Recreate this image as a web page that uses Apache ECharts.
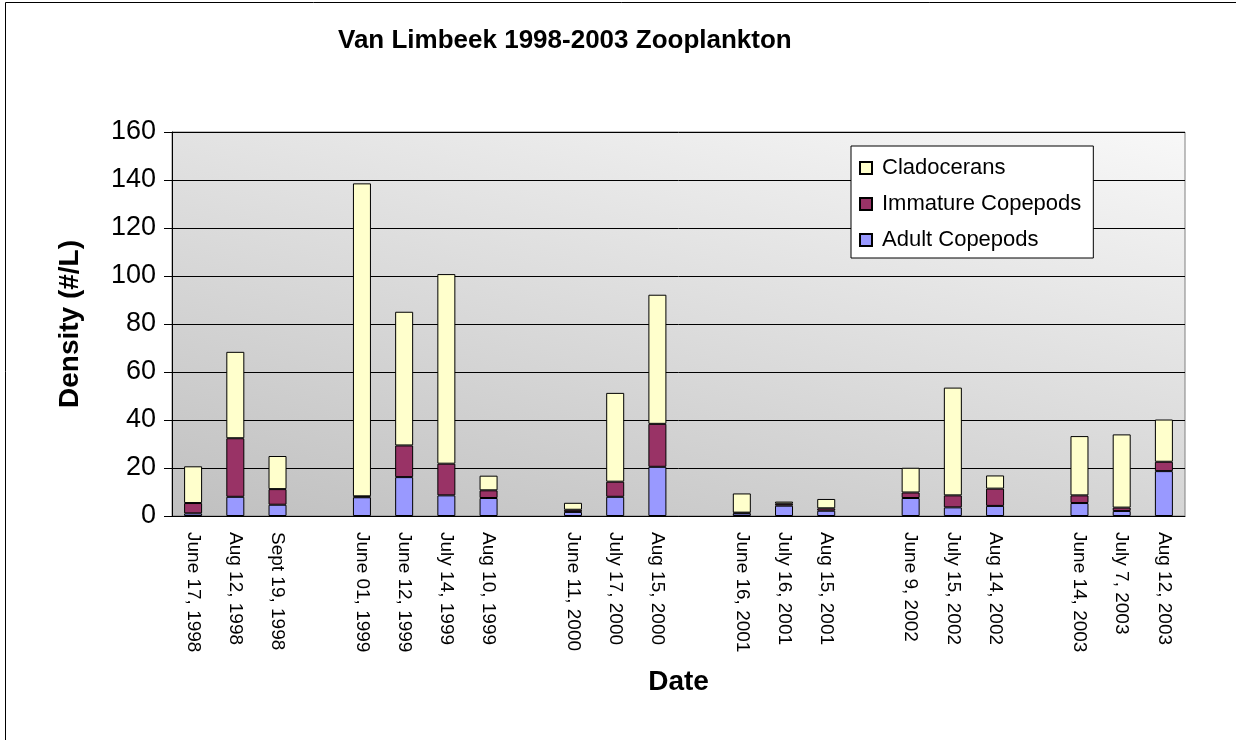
<!DOCTYPE html>
<html>
<head>
<meta charset="utf-8">
<script src="https://cdn.jsdelivr.net/npm/echarts@6/dist/echarts.min.js"></script>
<style>
  html, body { margin: 0; padding: 0; background: #fff; }
  #chart { width: 1236px; height: 740px; }
</style>
</head>
<body>
<div id="chart"></div>
<script>
  // sampling dates, blank entries are the gaps between years
  let dates = ['June 17, 1998', 'Aug 12, 1998', 'Sept 19, 1998', '',
    'June 01, 1999', 'June 12, 1999', 'July 14, 1999', 'Aug 10, 1999', '',
    'June 11, 2000', 'July 17, 2000', 'Aug 15, 2000', '',
    'June 16, 2001', 'July 16, 2001', 'Aug 15, 2001', '',
    'June 9, 2002', 'July 15, 2002', 'Aug 14, 2002', '',
    'June 14, 2003', 'July 7, 2003', 'Aug 12, 2003'];
  let adult = [1.1, 8.0, 4.7, null, 7.8, 16.2, 8.6, 7.5, null, 1.7, 8.0, 20.5, null,
    1.1, 4.3, 2.2, null, 7.5, 3.6, 4.2, null, 5.4, 2.1, 18.7];
  let immature = [4.3, 24.4, 6.5, null, 0.4, 13.2, 13.2, 3.2, null, 0.9, 6.3, 17.9, null,
    0.3, 0.8, 1.0, null, 2.3, 5.0, 7.2, null, 3.2, 1.4, 3.9];
  let clado = [15.3, 36.0, 13.8, null, 130.4, 55.7, 79.0, 6.1, null, 2.9, 37.0, 53.8, null,
    8.0, 0.9, 3.9, null, 10.3, 44.9, 5.5, null, 24.7, 30.5, 17.6];
  let yTicks = [0, 20, 40, 60, 80, 100, 120, 140, 160];

  let font = 'Liberation Sans, Arial, sans-serif';
  let chart = echarts.init(document.getElementById('chart'));

  function bar(name, data, color) {
    return {
      name: name,
      type: 'bar',
      stack: 'total',
      data: data,
      barWidth: 18,
      itemStyle: { color: color, borderColor: '#000', borderWidth: 1 }
    };
  }

  let option = {
    backgroundColor: '#fff',
    animation: false,
    title: {
      text: 'Van Limbeek 1998-2003 Zooplankton',
      left: 338,
      top: 28,
      padding: 0,
      textStyle: { fontFamily: font, fontSize: 26, fontWeight: 'bold', color: '#000' }
    },
    legend: {
      orient: 'vertical',
      left: 851,
      top: 146,
      width: 251,
      padding: [11, 12, 7, 8],
      itemGap: 14,
      itemWidth: 12,
      itemHeight: 12,
      icon: 'rect',
      backgroundColor: '#fff',
      borderColor: '#000',
      borderWidth: 1,
      data: ['Cladocerans', 'Immature Copepods', 'Adult Copepods'],
      textStyle: { fontFamily: font, fontSize: 22, color: '#000', padding: [0, 0, 0, 5] }
    },
    grid: {
      left: 172,
      top: 132,
      right: 51,
      bottom: 224,
      show: true,
      borderColor: '#808080',
      borderWidth: 1,
      // light at top right, darker towards bottom left, mostly vertical
      backgroundColor: new echarts.graphic.LinearGradient(0, 1, 0.135, -0.53, [
        { offset: 0, color: '#c0c0c0' },
        { offset: 1, color: '#f8f8f8' }
      ])
    },
    xAxis: {
      type: 'category',
      data: dates,
      name: 'Date',
      nameLocation: 'middle',
      nameGap: 152,
      nameTextStyle: { fontFamily: font, fontSize: 28, fontWeight: 'bold', color: '#000' },
      axisLine: { lineStyle: { color: '#000', width: 1 } },
      axisTick: { interval: 0, length: 6, lineStyle: { color: '#000' } },
      axisLabel: {
        interval: 0,
        rotate: -90,
        margin: 16,
        fontFamily: font,
        fontSize: 19,
        color: '#000'
      }
    },
    yAxis: {
      type: 'value',
      min: yTicks[0],
      max: yTicks[yTicks.length - 1],
      interval: 20,
      name: 'Density (#/L)',
      nameLocation: 'middle',
      nameGap: 88,
      nameTextStyle: { fontFamily: font, fontSize: 28, fontWeight: 'bold', color: '#000' },
      axisLine: { show: true, lineStyle: { color: '#000', width: 1 } },
      axisTick: { show: true, length: 8, lineStyle: { color: '#000' } },
      axisLabel: { margin: 16, fontFamily: font, fontSize: 27, color: '#000' },
      splitLine: { lineStyle: { color: '#000', width: 1 } }
    },
    graphic: [{
      type: 'rect',
      silent: true,
      shape: { x: 5.5, y: 2.5, width: 1400, height: 900 },
      style: { fill: 'none', stroke: '#000', lineWidth: 1 }
    }],
    series: [
      bar('Adult Copepods', adult, '#9999ff'),
      bar('Immature Copepods', immature, '#993366'),
      bar('Cladocerans', clado, '#ffffcc')
    ]
  };
  chart.setOption(option);
</script>
</body>
</html>
